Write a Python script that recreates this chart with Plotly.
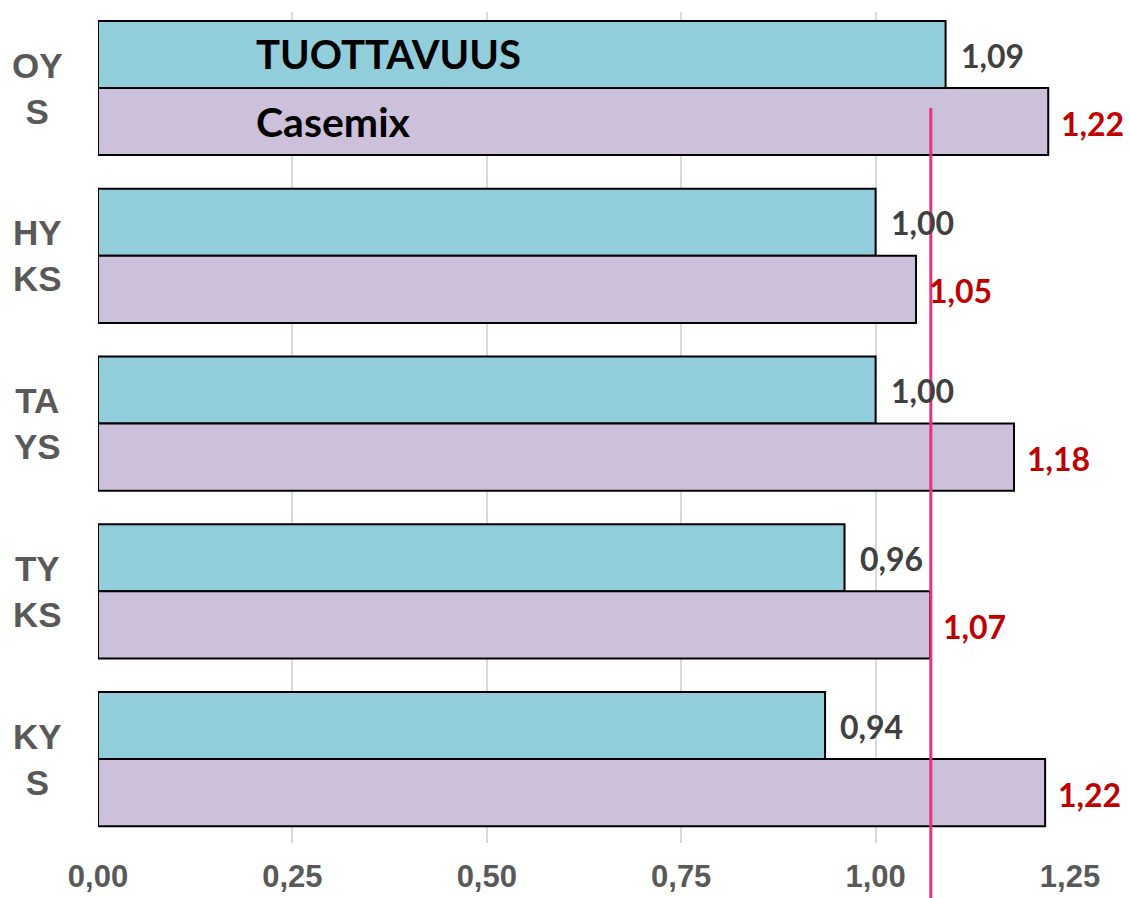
import plotly.graph_objects as go

categories = ["OYS", "HYKS", "TAYS", "TYKS", "KYS"]
category_labels = ["OY<br>S", "HY<br>KS", "TA<br>YS", "TY<br>KS", "KY<br>S"]
tuottavuus = [1.09, 1.00, 1.00, 0.96, 0.935]
casemix = [1.222, 1.052, 1.178, 1.07, 1.218]
tuottavuus_text = ["1,09", "1,00", "1,00", "0,96", "0,94"]
casemix_text = ["1,22", "1,05", "1,18", "1,07", "1,22"]
reference_line = 1.071
x_ticks = [0, 0.25, 0.5, 0.75, 1.0, 1.25]
x_tick_labels = ["0,00", "0,25", "0,50", "0,75", "1,00", "1,25"]
x_max = 1.25

LABEL_FONT = "Lato, Open Sans, sans-serif"
AXIS_FONT = "Liberation Sans, Arial, sans-serif"

fig = go.Figure()
fig.add_trace(go.Bar(
    y=categories, x=tuottavuus, orientation="h", name="TUOTTAVUUS",
    marker=dict(color="#92CDDC", line=dict(color="#000000", width=2)),
))
fig.add_trace(go.Bar(
    y=categories, x=casemix, orientation="h", name="Casemix",
    marker=dict(color="#CCC0DA", line=dict(color="#000000", width=2)),
))

ann = []
for c, v, t in zip(categories, tuottavuus, tuottavuus_text):
    ann.append(dict(x=v, y=c, text=t, xref="x", yref="y", xanchor="left", yanchor="middle",
                    xshift=13, yshift=33, showarrow=False,
                    font=dict(family=LABEL_FONT, size=32, color="#404040", weight="bold")))
for c, v, t in zip(categories, casemix, casemix_text):
    ann.append(dict(x=v, y=c, text=t, xref="x", yref="y", xanchor="left", yanchor="middle",
                    xshift=11, yshift=-35, showarrow=False,
                    font=dict(family=LABEL_FONT, size=32, color="#C00000", weight="bold")))
for c, lab in zip(categories, category_labels):
    ann.append(dict(x=-0.062, y=c, text=lab, xref="paper", yref="y",
                    xanchor="center", yanchor="middle", align="center", showarrow=False,
                    font=dict(family=AXIS_FONT, size=35, color="#595959", weight="bold")))
ann.append(dict(x=0.2, y=categories[0], text="TUOTTAVUUS", xref="x", yref="y",
                xanchor="left", yanchor="middle", yshift=34, showarrow=False,
                font=dict(family=LABEL_FONT, size=40, color="#000000", weight="bold")))
ann.append(dict(x=0.2, y=categories[0], text="Casemix", xref="x", yref="y",
                xanchor="left", yanchor="middle", yshift=-33, showarrow=False,
                font=dict(family=LABEL_FONT, size=41, color="#000000", weight="bold")))

fig.update_layout(
    width=1130, height=898,
    margin=dict(l=98, r=60, t=12, b=55),
    paper_bgcolor="white", plot_bgcolor="white",
    barmode="group", bargap=0.2, bargroupgap=0,
    showlegend=False,
    annotations=ann,
    shapes=[dict(type="line", xref="paper", yref="paper",
                 x0=reference_line / x_max, x1=reference_line / x_max,
                 y0=0.8845, y1=-0.07,
                 line=dict(color="#E8327A", width=3))],
    xaxis=dict(range=[0, x_max], tickvals=x_ticks, ticktext=x_tick_labels,
               showgrid=True, gridcolor="#D9D9D9", gridwidth=2,
               zeroline=False, showline=False, ticks="", automargin=False,
               ticklabelstandoff=12,
               tickfont=dict(family=AXIS_FONT, size=31, color="#595959", weight="bold")),
    yaxis=dict(categoryorder="array", categoryarray=categories,
               range=[4.5, -0.453], showticklabels=False, showgrid=False,
               zeroline=False, showline=False, ticks="", automargin=False),
)

fig.write_html("out.html", config={"displayModeBar": False},
               post_script="document.body.style.margin='0';document.body.style.overflow='hidden';")
